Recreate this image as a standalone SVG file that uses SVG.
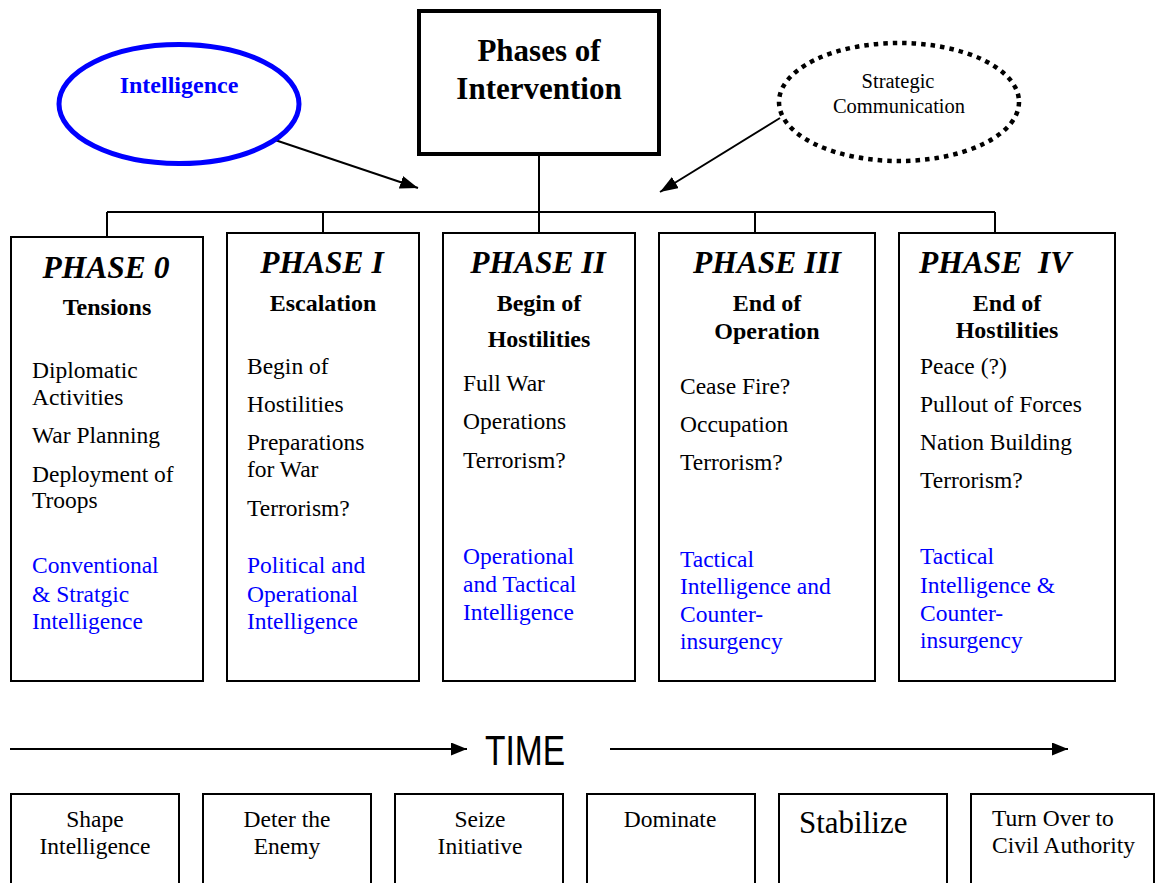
<svg xmlns="http://www.w3.org/2000/svg" width="1156" height="883" viewBox="0 0 1156 883">
  <style>
    text { font-family: "Liberation Serif", "Times New Roman", serif; fill: #000; }
    .title { font-size: 31px; font-weight: bold; text-anchor: middle; }
    .phase { font-size: 31.5px; font-weight: bold; font-style: italic; }
    .sub { font-size: 24px; font-weight: bold; text-anchor: middle; }
    .item { font-size: 23.5px; }
    .intel { font-size: 23.5px; fill: #0000ff; }
    .box { fill: #fff; stroke: #000; stroke-width: 2; }
    .link { fill: none; stroke: #000; stroke-width: 2; }
    .mid { text-anchor: middle; }
  </style>
  <defs>
    <marker id="head" markerUnits="userSpaceOnUse" markerWidth="18" markerHeight="13" refX="18" refY="6.5" orient="auto">
      <path d="M0,0 L18,6.5 L0,13 z" fill="#000"/>
    </marker>
    <marker id="timehead" markerUnits="userSpaceOnUse" markerWidth="16" markerHeight="13" refX="16" refY="6.5" orient="auto">
      <path d="M0,0 L16,6.5 L0,13 z" fill="#000"/>
    </marker>
  </defs>

  <rect width="1156" height="883" fill="#fff"/>

  <!-- connectors -->
  <g id="connectors">
    <path class="link" d="M539,156 V212 M107,212 H995 M107,212 V237 M323,212 V233 M539,212 V233 M755,212 V233 M995,212 V233"/>
    <line class="link" x1="275" y1="140" x2="418" y2="188" marker-end="url(#head)"/>
    <line class="link" x1="780" y1="118" x2="660" y2="192" marker-end="url(#head)"/>
    <line class="link" x1="10" y1="749" x2="467" y2="749" marker-end="url(#timehead)"/>
    <line class="link" x1="610" y1="749" x2="1068" y2="749" marker-end="url(#timehead)"/>
  </g>

  <!-- title -->
  <g id="title">
    <rect x="419" y="11" width="240" height="143" fill="#fff" stroke="#000" stroke-width="4"/>
    <text class="title" x="539" y="61">Phases of</text>
    <text class="title" x="539" y="99">Intervention</text>
  </g>

  <!-- intelligence -->
  <g id="intelligence">
    <ellipse cx="179" cy="104" rx="120" ry="59.5" fill="none" stroke="#0000ff" stroke-width="5"/>
    <text x="179" y="93" font-size="24" font-weight="bold" text-anchor="middle" style="fill:#0000ff">Intelligence</text>
  </g>

  <!-- strategic communication -->
  <g id="strategic-communication">
    <ellipse cx="899" cy="102" rx="120" ry="59" fill="none" stroke="#000" stroke-width="4.5" stroke-dasharray="4.5 5"/>
    <text x="898" y="88" font-size="20.5" text-anchor="middle">Strategic</text>
    <text x="899" y="113" font-size="20.5" text-anchor="middle">Communication</text>
  </g>

  <!-- phase 0 -->
  <g id="phase0">
    <rect class="box" x="11" y="237" width="192" height="444"/>
    <text class="phase mid" x="106" y="278">PHASE 0</text>
    <text class="sub" x="107" y="315">Tensions</text>
    <text class="item" x="32" y="378">Diplomatic</text>
    <text class="item" x="32" y="405">Activities</text>
    <text class="item" x="32" y="443">War Planning</text>
    <text class="item" x="32" y="482">Deployment of</text>
    <text class="item" x="32" y="508">Troops</text>
    <text class="intel" x="32" y="573">Conventional</text>
    <text class="intel" x="32" y="602">&amp; Stratgic</text>
    <text class="intel" x="32" y="629">Intelligence</text>
  </g>

  <!-- phase I -->
  <g id="phase1">
    <rect class="box" x="227" y="233" width="192" height="448"/>
    <text class="phase mid" x="322" y="273">PHASE I</text>
    <text class="sub" x="323" y="311">Escalation</text>
    <text class="item" x="247" y="374">Begin of</text>
    <text class="item" x="247" y="412">Hostilities</text>
    <text class="item" x="247" y="450">Preparations</text>
    <text class="item" x="247" y="477">for War</text>
    <text class="item" x="247" y="516">Terrorism?</text>
    <text class="intel" x="247" y="573">Political and</text>
    <text class="intel" x="247" y="602">Operational</text>
    <text class="intel" x="247" y="629">Intelligence</text>
  </g>

  <!-- phase II -->
  <g id="phase2">
    <rect class="box" x="443" y="233" width="192" height="448"/>
    <text class="phase mid" x="538" y="273">PHASE II</text>
    <text class="sub" x="539" y="311">Begin of</text>
    <text class="sub" x="539" y="347">Hostilities</text>
    <text class="item" x="463" y="391">Full War</text>
    <text class="item" x="463" y="429">Operations</text>
    <text class="item" x="463" y="468">Terrorism?</text>
    <text class="intel" x="463" y="564">Operational</text>
    <text class="intel" x="463" y="592">and Tactical</text>
    <text class="intel" x="463" y="620">Intelligence</text>
  </g>

  <!-- phase III -->
  <g id="phase3">
    <rect class="box" x="659" y="233" width="216" height="448"/>
    <text class="phase mid" x="767" y="273">PHASE III</text>
    <text class="sub" x="767" y="311">End of</text>
    <text class="sub" x="767" y="339">Operation</text>
    <text class="item" x="680" y="394">Cease Fire?</text>
    <text class="item" x="680" y="432">Occupation</text>
    <text class="item" x="680" y="470">Terrorism?</text>
    <text class="intel" x="680" y="567">Tactical</text>
    <text class="intel" x="680" y="594">Intelligence and</text>
    <text class="intel" x="680" y="622">Counter-</text>
    <text class="intel" x="680" y="649">insurgency</text>
  </g>

  <!-- phase IV -->
  <g id="phase4">
    <rect class="box" x="899" y="233" width="216" height="448"/>
    <text class="phase" x="919" y="273" xml:space="preserve" style="white-space:pre">PHASE  IV</text>
    <text class="sub" x="1007" y="311">End of</text>
    <text class="sub" x="1007" y="338">Hostilities</text>
    <text class="item" x="920" y="374">Peace (?)</text>
    <text class="item" x="920" y="412">Pullout of Forces</text>
    <text class="item" x="920" y="450">Nation Building</text>
    <text class="item" x="920" y="488">Terrorism?</text>
    <text class="intel" x="920" y="564">Tactical</text>
    <text class="intel" x="920" y="593">Intelligence &amp;</text>
    <text class="intel" x="920" y="621">Counter-</text>
    <text class="intel" x="920" y="648">insurgency</text>
  </g>

  <!-- time label -->
  <g id="time">
    <text x="485" y="765" font-family="'Liberation Sans', Arial, sans-serif" font-size="42" textLength="80" lengthAdjust="spacingAndGlyphs" style="font-family:'Liberation Sans', Arial, sans-serif">TIME</text>
  </g>

  <!-- operation stages -->
  <g id="stage-shape">
    <rect class="box" x="11" y="794" width="168" height="100"/>
    <text class="item mid" x="95" y="827">Shape</text>
    <text class="item mid" x="95" y="854">Intelligence</text>
  </g>
  <g id="stage-deter">
    <rect class="box" x="203" y="794" width="168" height="100"/>
    <text class="item mid" x="287" y="827">Deter the</text>
    <text class="item mid" x="287" y="854">Enemy</text>
  </g>
  <g id="stage-seize">
    <rect class="box" x="395" y="794" width="168" height="100"/>
    <text class="item mid" x="480" y="827">Seize</text>
    <text class="item mid" x="480" y="854">Initiative</text>
  </g>
  <g id="stage-dominate">
    <rect class="box" x="587" y="794" width="168" height="100"/>
    <text class="item mid" x="670" y="827">Dominate</text>
  </g>
  <g id="stage-stabilize">
    <rect class="box" x="779" y="794" width="168" height="100"/>
    <text x="799" y="833" font-size="31">Stabilize</text>
  </g>
  <g id="stage-turnover">
    <rect class="box" x="971" y="794" width="183" height="100"/>
    <text class="item" x="992" y="826">Turn Over to</text>
    <text class="item" x="992" y="853">Civil Authority</text>
  </g>
</svg>
